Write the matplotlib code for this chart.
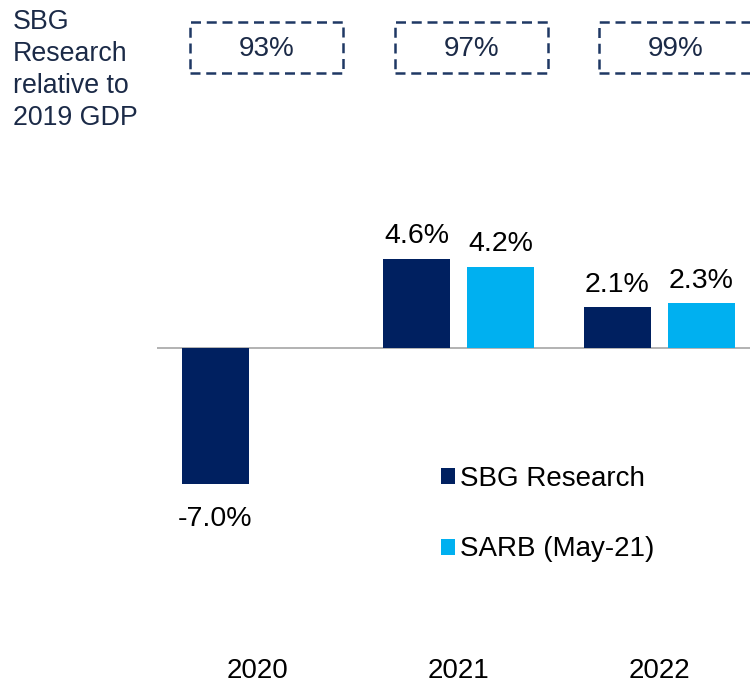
import matplotlib.pyplot as plt
import matplotlib.transforms as mtransforms
from matplotlib.patches import Rectangle
import numpy as np

plt.rcParams['font.family'] = ['Liberation Sans', 'DejaVu Sans']

# ----------- Datos -----------
years = ['2020', '2021', '2022']
sbg = [-7.0, 4.6, 2.1]
sarb = [np.nan, 4.2, 2.3]          # SARB no muestra 2020
rel_2019 = [93, 97, 99]            # SBG Research relativo al PIB 2019
series_names = ['SBG Research', 'SARB (May-21)']

navy = '#002060'
cyan = '#00B0F0'
text_dark = '#1B2A47'

fig = plt.figure(figsize=(7.5, 6.84), dpi=100)
ax = fig.add_axes([157 / 750, 1 - 640 / 684, 593 / 750, 490 / 684])

x = np.arange(len(years))
w = 0.333
off = 0.209
b1 = ax.bar(x - off, sbg, w, color=navy, label=series_names[0])
b2 = ax.bar(x + off, sarb, w, color=cyan, label=series_names[1])

ax.axhline(0, color='#A6A6A6', lw=1.2, zorder=0)
ax.set_xlim(-0.5, -0.5 + 593 / 201)
ax.set_ylim(-(640 - 348) / 19.4, (348 - 150) / 19.4)

# etiquetas de valor
for bars, vals in ((b1, sbg), (b2, sarb)):
    for bar, v in zip(bars, vals):
        if np.isnan(v):
            continue
        cx = bar.get_x() + bar.get_width() / 2
        if v >= 0:
            ax.annotate(f"{v:.1f}%", (cx, v), xytext=(0, 7), textcoords='offset points',
                        ha='center', va='bottom', fontsize=20.5, color='black')
        else:
            ax.annotate(f"{v:.1f}%", (cx, v), xytext=(0, -16), textcoords='offset points',
                        ha='center', va='top', fontsize=20.5, color='black')

ax.set_xticks(x)
ax.set_xticklabels(years, fontsize=20)
ax.tick_params(axis='x', length=0, pad=13)
ax.set_yticks([])
for s in ax.spines.values():
    s.set_visible(False)

# ----------- Leyenda -----------
ax.legend(loc='upper left', bbox_to_anchor=(441 / 750, 1 - 466 / 684),
          bbox_transform=fig.transFigure, frameon=False, fontsize=20,
          handlelength=0.5, handleheight=0.5, handletextpad=0.2,
          labelspacing=1.6, borderpad=0, borderaxespad=0)

# ----------- Cajas superiores (relativo a 2019) -----------
trans = mtransforms.blended_transform_factory(ax.transData, fig.transFigure)
box_w = 0.761
box_y0 = 1 - 73 / 684
box_h = 51 / 684
for i, val in enumerate(rel_2019):
    cx = i * 1.018 + 0.045
    rect = Rectangle((cx - box_w / 2, box_y0), box_w, box_h, transform=trans,
                     fill=False, edgecolor='#1F3864', lw=1.8, linestyle=(0, (4, 2.3)),
                     clip_on=False)
    fig.add_artist(rect)
    fig.text(cx, 1 - 49 / 684, f"{val}%", transform=trans, ha='center',
             va='center', fontsize=20, color=text_dark)

fig.text(13 / 750, 1 - 9 / 684, "SBG\nResearch\nrelative to\n2019 GDP", ha='left',
         va='top', fontsize=19.3, color=text_dark, linespacing=1.3)

plt.savefig('out.png', dpi=100)
plt.close()
